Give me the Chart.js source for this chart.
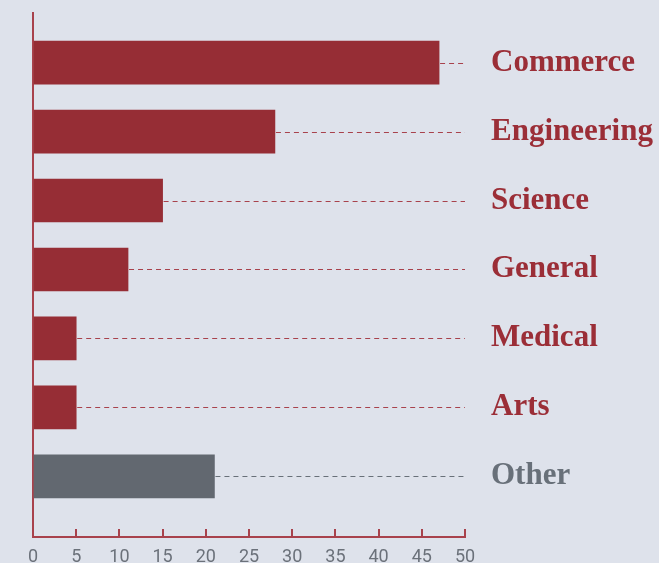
<!DOCTYPE html>
<html>
<head>
<meta charset="utf-8">
<script src="https://cdn.jsdelivr.net/npm/chart.js@4"></script>
<style>
  html, body { margin: 0; padding: 0; background: #dee2eb; }
  #wrap { width: 659px; height: 563px; position: relative; }
</style>
</head>
<body>
<div id="wrap"><canvas id="chart"></canvas></div>
<script>
const categories = ['Commerce', 'Engineering', 'Science', 'General', 'Medical', 'Arts', 'Other'];
const values = [47, 28, 15, 11, 5, 5, 21];
const xTicks = [0, 5, 10, 15, 20, 25, 30, 35, 40, 45, 50];

const RED = '#962d35';
const GREY = '#626870';
const LABEL_RED = '#9b2e37';
const LABEL_GREY = '#687079';
const AXIS_RED = '#a8424c';

const isOther = i => categories[i] === 'Other';

// dashed leader from the end of each bar to the right edge of the plot
const leaderLines = {
    id: 'leaderLines',
    afterDatasetsDraw(chart) {
        const ctx = chart.ctx;
        const right = chart.chartArea.right;
        const meta = chart.getDatasetMeta(0);
        ctx.save();
        ctx.lineWidth = 1;
        ctx.setLineDash([5, 4]);
        meta.data.forEach((bar, i) => {
            ctx.strokeStyle = isOther(i) ? LABEL_GREY : AXIS_RED;
            ctx.beginPath();
            ctx.moveTo(bar.x + 1, Math.round(bar.y) + 0.5);
            ctx.lineTo(right, Math.round(bar.y) + 0.5);
            ctx.stroke();
        });
        ctx.restore();
    }
};

const noPad = s => { s.paddingTop = 0; s.paddingBottom = 0; s.paddingLeft = 0; s.paddingRight = 0; };

new Chart(document.getElementById('chart'), {
    type: 'bar',
    data: {
        datasets: [{
            data: values.map((v, i) => ({ x: v, y: i })),
            backgroundColor: values.map((v, i) => isOther(i) ? GREY : RED),
            barThickness: 43,
            borderWidth: 0
        }]
    },
    options: {
        indexAxis: 'y',
        responsive: true,
        maintainAspectRatio: false,
        animation: false,
        layout: { padding: { top: 13, left: 0, right: 0, bottom: 0 } },
        plugins: { legend: { display: false }, tooltip: { enabled: false } },
        scales: {
            x: {
                type: 'linear',
                min: 0,
                max: 50,
                afterBuildTicks: s => { s.ticks = xTicks.map(v => ({ value: v })); },
                afterFit: s => { s.height = 26; noPad(s); },
                grid: { drawOnChartArea: false, drawTicks: true, tickLength: -8, color: AXIS_RED, lineWidth: 2 },
                border: { color: AXIS_RED, width: 2 },
                ticks: {
                    color: '#6b717a',
                    padding: 18,
                    font: { family: 'Roboto, sans-serif', size: 18 }
                }
            },
            y: {
                type: 'linear',
                position: 'left',
                reverse: true,
                offset: false,
                min: -0.72,
                max: 6.88,
                afterFit: s => { s.width = 33; noPad(s); },
                grid: { display: false, offset: false },
                border: { color: AXIS_RED, width: 2 },
                ticks: { display: false }
            },
            y2: {
                type: 'linear',
                position: 'right',
                reverse: true,
                offset: false,
                min: -0.72,
                max: 6.88,
                afterBuildTicks: s => { s.ticks = categories.map((c, i) => ({ value: i })); },
                afterFit: s => { s.width = 194; noPad(s); },
                grid: { display: false, drawTicks: false, offset: false },
                border: { display: false },
                ticks: {
                    padding: 26,
                    callback: v => categories[v],
                    color: ctx => isOther(ctx.index) ? LABEL_GREY : LABEL_RED,
                    font: { family: '"Liberation Serif", serif', size: 31, weight: 'bold' }
                }
            }
        }
    },
    plugins: [leaderLines]
});
</script>
</body>
</html>
